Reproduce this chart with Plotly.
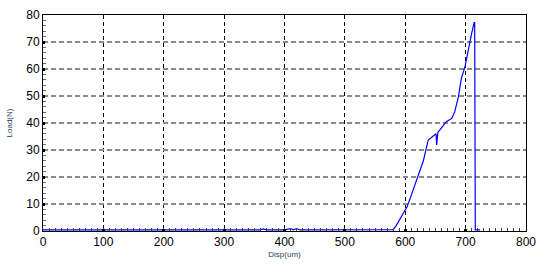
import plotly.graph_objects as go

disp_um = [0, 100, 200, 300, 360, 365, 370, 400, 410, 415, 420, 425, 500, 540, 575,
           580, 585, 590, 595, 600, 603, 608, 613, 618, 624, 630, 638, 645, 649, 651,
           652, 654, 657, 662, 668, 677, 682, 688, 693, 699, 704, 710, 714, 715, 716, 724]
load_n = [0.4, 0.4, 0.4, 0.4, 0.4, 0.8, 0.4, 0.4, 0.9, 0.4, 0.9, 0.4, 0.4, 0.4, 0.4,
          0.5, 2, 4, 6, 7.8, 9, 12, 15.2, 18, 21.4, 26, 33.7, 35, 35.6, 36,
          31.9, 36.5, 37.4, 39, 40.5, 41.7, 44.2, 49.7, 56.5, 60.9, 67, 73.2, 77.2, 77.2, 0.4, 0.4]

x_ticks = [0, 100, 200, 300, 400, 500, 600, 700, 800]
y_ticks = [0, 10, 20, 30, 40, 50, 60, 70, 80]

fig = go.Figure(go.Scatter(x=disp_um, y=load_n, mode="lines",
                           line=dict(color="#0000ff", width=1.2)))

tickfont = dict(family="Liberation Sans, Arial", size=12, color="black")
fig.update_layout(
    width=537, height=265,
    margin=dict(l=43, r=11, t=15, b=34),
    paper_bgcolor="white", plot_bgcolor="white",
    showlegend=False,
    xaxis=dict(range=[0, 800], tickvals=x_ticks, ticktext=[str(v) for v in x_ticks],
               automargin=False,
               showgrid=True, gridcolor="black", griddash="4px,3px", gridwidth=1,
               showline=True, linecolor="black", linewidth=1, mirror=True,
               ticks="inside", ticklen=2, tickwidth=3, tickcolor="black",
               minor=dict(dtick=10, ticks="inside", ticklen=3, tickwidth=1,
                          tickcolor="#404040", showgrid=False),
               zeroline=False, tickfont=tickfont,
               title=dict(text="Disp(um)", font=dict(family="Liberation Sans, Arial", size=8), standoff=2)),
    yaxis=dict(range=[0, 80], tickvals=y_ticks, ticktext=[str(v) for v in y_ticks],
               automargin=False,
               showgrid=True, gridcolor="#8a8a8a", griddash="5px,3px", gridwidth=1.5,
               showline=True, linecolor="black", linewidth=1, mirror=True,
               ticks="inside", ticklen=2, tickwidth=3, tickcolor="black",
               minor=dict(dtick=2, ticks="inside", ticklen=3, tickwidth=1,
                          tickcolor="#707070", showgrid=False),
               zeroline=False, tickfont=tickfont,
               title=dict(text="Load(N)", font=dict(family="Liberation Sans, Arial", size=8), standoff=12)),
)

fig.write_html("out.html")
